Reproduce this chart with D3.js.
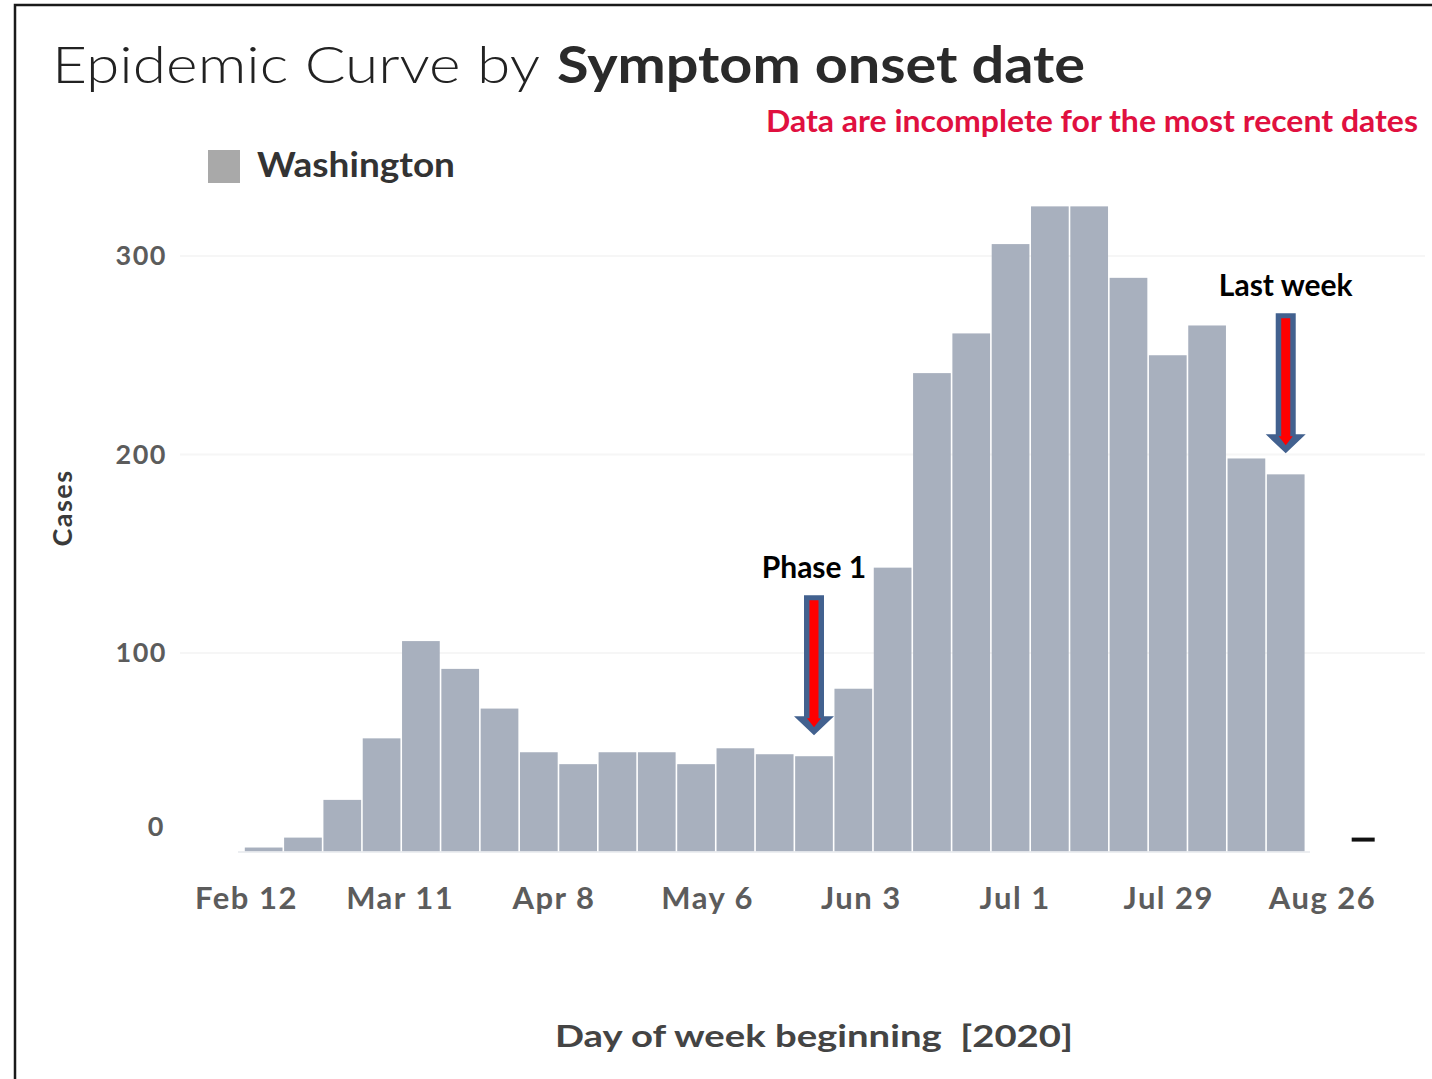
<!DOCTYPE html>
<html>
<head>
<meta charset="utf-8">
<script src="https://cdn.jsdelivr.net/npm/d3@7"></script>
<style>
  html, body { margin: 0; padding: 0; background: #fff; }
  svg { display: block; }
  text { font-family: Lato, "Open Sans", sans-serif; }
</style>
</head>
<body>
<div id="chart"></div>
<script>
// weekly symptom onset counts, Washington 2020
var weekStarts = ["2020-02-12", "2020-02-19", "2020-02-26", "2020-03-04", "2020-03-11",
  "2020-03-18", "2020-03-25", "2020-04-01", "2020-04-08", "2020-04-15", "2020-04-22",
  "2020-04-29", "2020-05-06", "2020-05-13", "2020-05-20", "2020-05-27", "2020-06-03",
  "2020-06-10", "2020-06-17", "2020-06-24", "2020-07-01", "2020-07-08", "2020-07-15",
  "2020-07-22", "2020-07-29", "2020-08-05", "2020-08-12", "2020-08-19", "2020-08-26"];
var cases = [2, 7, 26, 57, 106, 92, 72, 50, 44, 50, 50, 44, 52, 49, 48, 82, 143,
  241, 261, 306, 325, 325, 289, 250, 265, 198, 190, null, null];

// the dash drawn for the newest (incomplete) week
var pendingDates = ["2020-08-26"];
var pendingValues = [6];

var yTicks = [0, 100, 200, 300];
var xTickDates = ["2020-02-12", "2020-03-11", "2020-04-08", "2020-05-06",
  "2020-06-03", "2020-07-01", "2020-07-29", "2020-08-26"];

var noteLabels = ["Phase 1", "Last week"];
var noteDates = ["2020-05-20", "2020-08-12"];

var W = 1432, H = 1079;
var parse = d3.utcParse("%Y-%m-%d");

var svg = d3.select("#chart").append("svg")
  .attr("width", W)
  .attr("height", H);

// frame lines (top + left)
svg.append("path")
  .attr("d", "M15,1079 L15,5 L1432,5")
  .attr("fill", "none")
  .attr("stroke", "#1a1a1a")
  .attr("stroke-width", 2.5);

var x = d3.scaleUtc()
  .domain([parse("2020-02-12"), parse("2020-09-02")])
  .range([244, 1384]);

// tick labels sit on their own spacing in the original
var xLabel = d3.scaleUtc()
  .domain([parse("2020-02-12"), parse("2020-08-26")])
  .range([246, 1322]);

var y = d3.scaleLinear()
  .domain([0, 300])
  .range([851.5, 256]);

// faint gridlines
svg.append("g").selectAll("line")
  .data(yTicks.slice(1))
  .enter().append("line")
  .attr("x1", 180).attr("x2", 1425)
  .attr("y1", function(d) { return y(d); })
  .attr("y2", function(d) { return y(d); })
  .attr("stroke", "#f6f6f6")
  .attr("stroke-width", 2);

var bars = weekStarts.map(function(d, i) { return { date: parse(d), value: cases[i] }; })
  .filter(function(d) { return d.value != null; });

svg.append("g").selectAll("rect")
  .data(bars)
  .enter().append("rect")
  .attr("x", function(d) { return x(d.date) + 0.8; })
  .attr("width", function(d) { return x(d3.utcDay.offset(d.date, 7)) - x(d.date) - 1.6; })
  .attr("y", function(d) { return y(d.value); })
  .attr("height", function(d) { return y(0) - y(d.value); })
  .attr("fill", "#a8b0be");

// baseline
svg.append("line")
  .attr("x1", 238).attr("x2", 1310)
  .attr("y1", y(0) + 0.5).attr("y2", y(0) + 0.5)
  .attr("stroke", "#e6e8ec")
  .attr("stroke-width", 1.5);

// incomplete week marker
svg.append("g").selectAll("line")
  .data(pendingDates)
  .enter().append("line")
  .attr("x1", function(d) { return x(parse(d)) + 7; })
  .attr("x2", function(d) { return x(parse(d)) + 30; })
  .attr("y1", function(d, i) { return y(pendingValues[i]); })
  .attr("y2", function(d, i) { return y(pendingValues[i]); })
  .attr("stroke", "#111")
  .attr("stroke-width", 4);

// y axis
var yAxis = svg.append("g")
  .attr("transform", "translate(167,0)")
  .call(d3.axisLeft(y).tickValues(yTicks).tickSize(0).tickPadding(0));
yAxis.select(".domain").remove();
yAxis.selectAll("text")
  .attr("font-size", 27)
  .attr("font-weight", "bold")
  .attr("letter-spacing", 1.5)
  .attr("fill", "#5c5c5c")
  .attr("dy", function(d) { return d === 0 ? "-0.6em" : "0.32em"; })
  .attr("transform", function(d) { return d === 0 ? "translate(-2,0)" : null; });

// x axis labels
var xAxis = svg.append("g")
  .attr("transform", "translate(0,887)")
  .call(d3.axisBottom(xLabel)
    .tickValues(xTickDates.map(parse))
    .tickFormat(d3.utcFormat("%b %-d"))
    .tickSize(0).tickPadding(0));
xAxis.select(".domain").remove();
xAxis.selectAll("text")
  .attr("font-size", 31)
  .attr("font-weight", "bold")
  .attr("letter-spacing", 1.5)
  .attr("fill", "#5c5c5c");

// axis titles
svg.append("text")
  .attr("transform", "translate(72,508) rotate(-90)")
  .attr("text-anchor", "middle")
  .attr("font-size", 27)
  .attr("font-weight", "bold")
  .attr("letter-spacing", 1.5)
  .attr("fill", "#3a3a3a")
  .text("Cases");

svg.append("text")
  .attr("x", 555).attr("y", 1047)
  .attr("textLength", 518)
  .attr("lengthAdjust", "spacingAndGlyphs")
  .attr("font-size", 31)
  .attr("font-weight", "bold")
  .attr("fill", "#444")
  .attr("xml:space", "preserve")
  .text("Day of week beginning  [2020]");

// title
svg.append("text")
  .attr("x", 52).attr("y", 83)
  .attr("textLength", 488)
  .attr("lengthAdjust", "spacingAndGlyphs")
  .attr("font-size", 52)
  .attr("font-weight", 300)
  .attr("fill", "#222")
  .text("Epidemic Curve by");
svg.append("text")
  .attr("x", 557).attr("y", 83)
  .attr("textLength", 528)
  .attr("lengthAdjust", "spacingAndGlyphs")
  .attr("font-size", 52)
  .attr("font-weight", "bold")
  .attr("fill", "#2a2a2a")
  .text("Symptom onset date");

svg.append("text")
  .attr("x", 766).attr("y", 132)
  .attr("textLength", 652)
  .attr("lengthAdjust", "spacingAndGlyphs")
  .attr("font-size", 30)
  .attr("font-weight", "bold")
  .attr("fill", "#e0103f")
  .text("Data are incomplete for the most recent dates");

// legend
svg.append("rect")
  .attr("x", 208).attr("y", 150)
  .attr("width", 32).attr("height", 33)
  .attr("fill", "#a9a9a9");
svg.append("text")
  .attr("x", 257).attr("y", 177)
  .attr("textLength", 198)
  .attr("lengthAdjust", "spacingAndGlyphs")
  .attr("font-size", 34)
  .attr("font-weight", "bold")
  .attr("fill", "#333")
  .text("Washington");

// annotation arrows
var notes = noteLabels.map(function(l, i) {
  var d = parse(noteDates[i]);
  var v = cases[weekStarts.indexOf(noteDates[i])];
  return { label: l, cx: (x(d) + x(d3.utcDay.offset(d, 7))) / 2, tip: y(v) - 21 };
});

var note = svg.append("g").selectAll("g")
  .data(notes)
  .enter().append("g");

note.append("path")
  .attr("d", function(d) {
    var c = d.cx, t = d.tip, top = t - 140, hb = t - 19;
    return "M" + (c - 10) + "," + top + " L" + (c + 10) + "," + top +
      " L" + (c + 10) + "," + hb + " L" + (c + 20) + "," + hb +
      " L" + c + "," + t + " L" + (c - 20) + "," + hb +
      " L" + (c - 10) + "," + hb + " Z";
  })
  .attr("fill", "#42618f");

note.append("path")
  .attr("d", function(d) {
    var c = d.cx, t = d.tip, top = t - 135, hb = t - 17;
    return "M" + (c - 4.5) + "," + top + " L" + (c + 4.5) + "," + top +
      " L" + (c + 4.5) + "," + hb + " L" + (c + 7) + "," + hb +
      " L" + c + "," + (t - 8) + " L" + (c - 7) + "," + hb +
      " L" + (c - 4.5) + "," + hb + " Z";
  })
  .attr("fill", "#ff0000");

note.append("text")
  .attr("x", function(d) { return d.cx; })
  .attr("y", function(d) { return d.tip - 157; })
  .attr("text-anchor", "middle")
  .attr("font-family", "'Open Sans', Lato, sans-serif")
  .attr("font-size", 30)
  .attr("font-weight", "bold")
  .attr("fill", "#000")
  .text(function(d) { return d.label; });
</script>
</body>
</html>
